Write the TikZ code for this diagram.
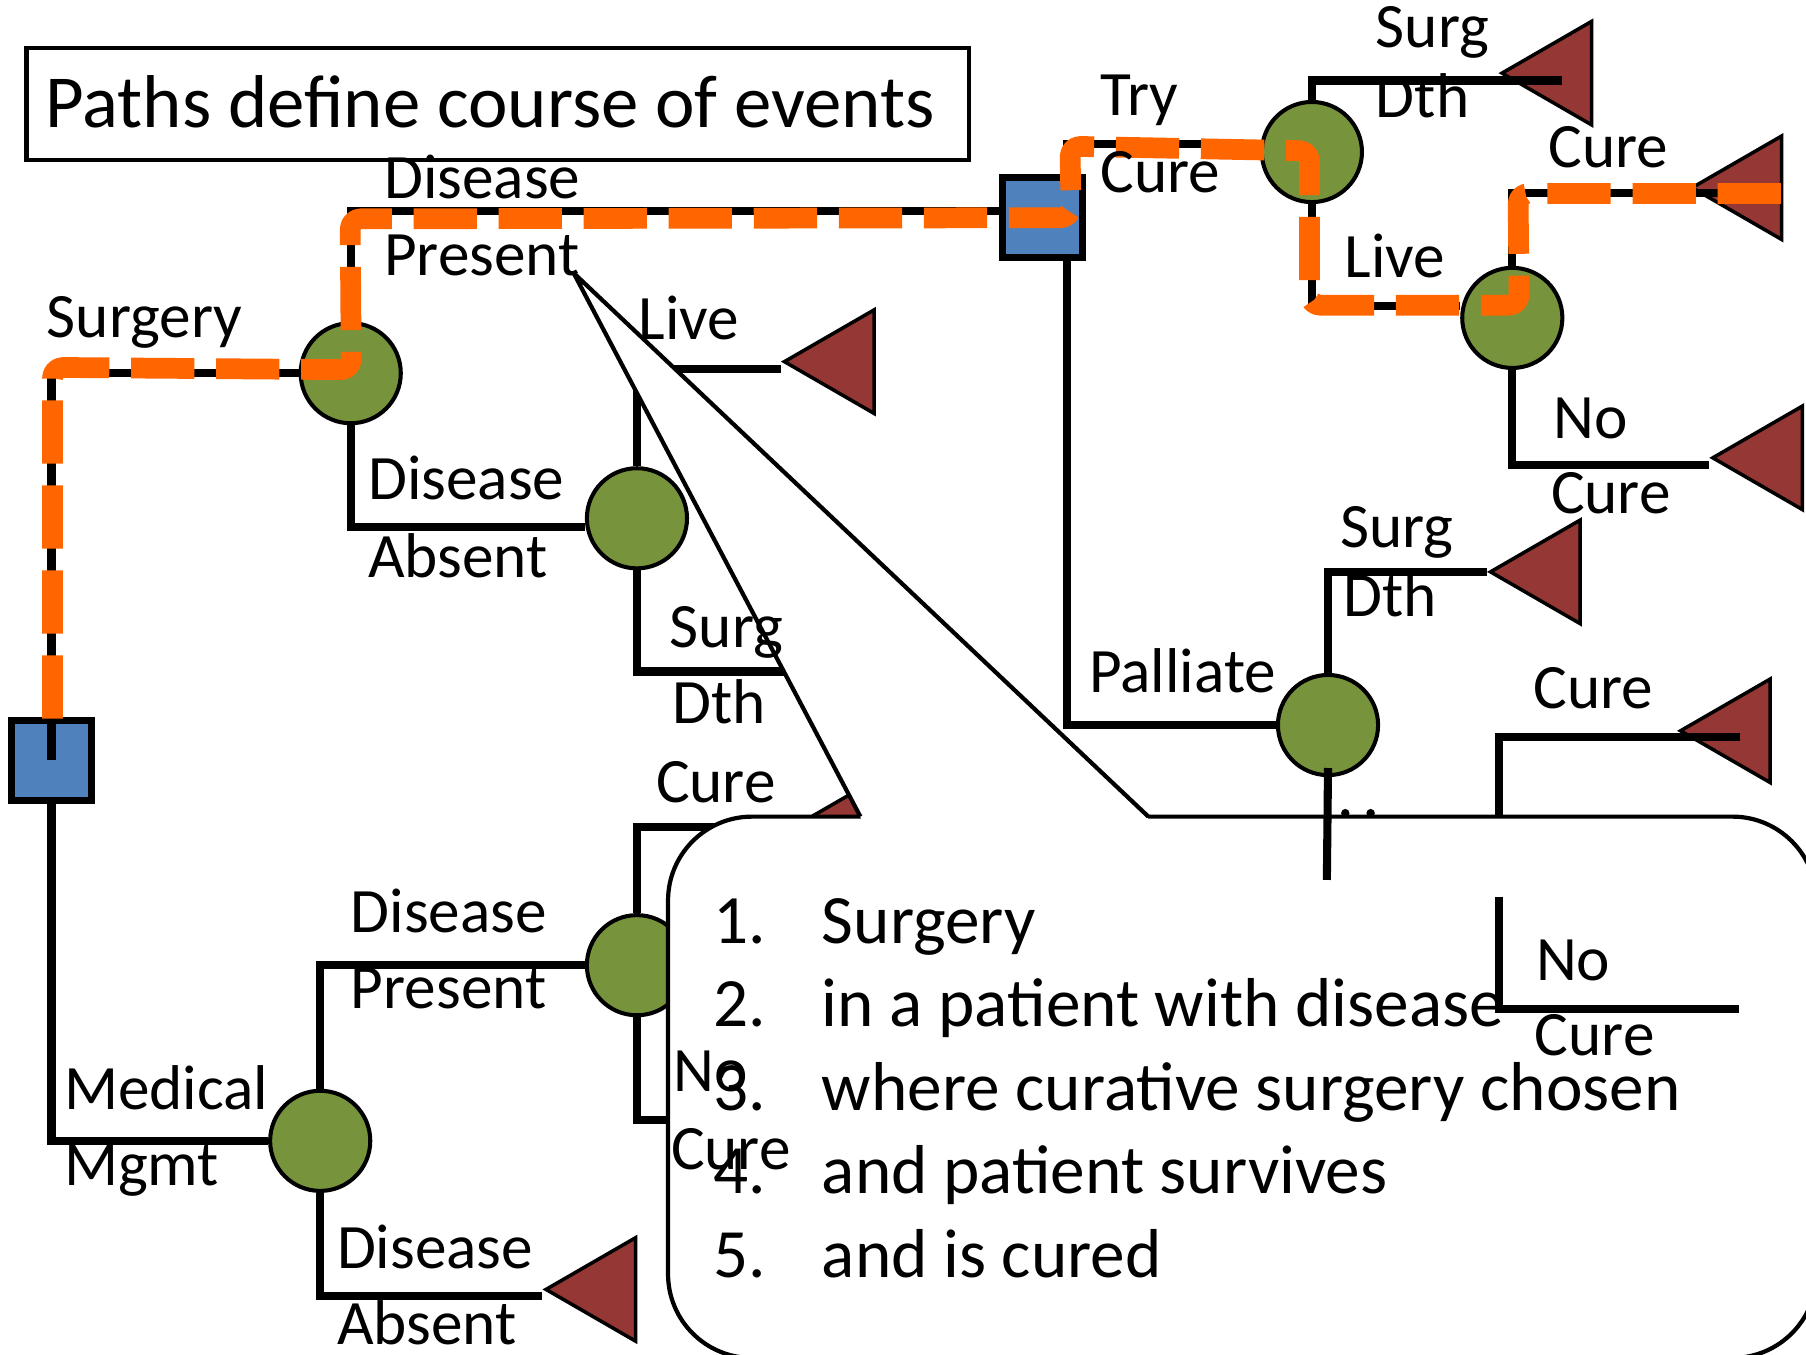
\documentclass[tikz,border=0pt]{standalone}
\usepackage{fontspec}
\setmainfont{Carlito}
\usetikzlibrary{shapes.geometric}

\definecolor{decisionblue}{HTML}{4F81BD}
\definecolor{chancegreen}{HTML}{77933C}
\definecolor{terminalred}{HTML}{953735}
\definecolor{pathorange}{HTML}{FF6600}

\begin{document}
\begin{tikzpicture}[x=0.011518cm, y=-0.011518cm]
    \tikzstyle{tree decision} = [rectangle,draw=black,fill=decisionblue,line width=2pt,minimum size=22.8pt,inner sep=0pt]
    \tikzstyle{tree chance} = [circle,draw=black,fill=chancegreen,line width=1.15pt,minimum size=28.5pt,inner sep=0pt]
    \tikzstyle{tree terminal} = [regular polygon,regular polygon sides=3,shape border rotate=90,draw=black,fill=terminalred,line width=1pt,minimum size=34pt,inner sep=0pt,anchor=corner 1]
    \tikzstyle{tree branch} = [draw=black,line width=2.3pt]
    \tikzstyle{branch label} = [anchor=base west,inner sep=0pt,font=\fontsize{18pt}{21pt}\selectfont]
    \tikzstyle{list label} = [anchor=base west,inner sep=0pt,font=\fontsize{19.7pt}{23pt}\selectfont]
    \tikzstyle{path highlight} = [draw=pathorange,line width=5.9pt,dash pattern=on 18pt off 6.2pt,rounded corners=3pt,line join=round]
    \tikzstyle{callout box} = [draw=black,line width=1.2pt]
\useasboundingbox (0,0) rectangle (1568,1176);
% title
\draw[line width=1.15pt] (23,42) rectangle (841,139);
\node[anchor=base west,inner sep=0pt,font=\fontsize{21.3pt}{25pt}\selectfont] (title) at (39,110.6) {Paths define course of events};
% decision and chance nodes
\node[tree decision] (root) at (44.7,660) {};
\node[tree decision] (treat) at (905,188.5) {};
\node[tree chance] (surgery) at (304.5,324) {};
\node[tree chance] (absent) at (553,450) {};
\node[tree chance] (medical) at (278,990.5) {};
\node[tree chance] (present) at (553,838) {};
\node[tree chance] (trycure) at (1139,132) {};
\node[tree chance] (live) at (1313,276) {};
\node[tree chance] (palliate) at (1153,629.5) {};
% terminal nodes
\node[tree terminal] (endlive) at (678,314) {};
\node[tree terminal] (endcure3) at (686,718) {};
\node[tree terminal] (endabsent) at (471,1119.5) {};
\node[tree terminal] (endsd1) at (1301,63.5) {};
\node[tree terminal] (endcure1) at (1466,163) {};
\node[tree terminal] (endnocure1) at (1484,397.5) {};
\node[tree terminal] (endsd2) at (1291,496.5) {};
\node[tree terminal] (endcure2) at (1456,634.5) {};
\coordinate (absentdth) at (690,583);
\coordinate (presentnc) at (600,972);
\coordinate (pallbelow) at (1152,764);
\coordinate (curetop) at (1301.5,709);
\coordinate (nocuretop) at (1301.5,778.5);
\coordinate (nocureend) at (1510,876);
% branches
\draw[tree branch] (root.center) |- (surgery);
\draw[tree branch] (root.south) |- (medical);
\draw[tree branch] (surgery) |- ([yshift=1.8pt]treat.west);
\draw[tree branch] (surgery) |- ([yshift=-2.6pt]absent.west);
\draw[tree branch] (absent) |- ([yshift=-2pt]endlive.corner 1);
\draw[tree branch] (absent) |- (absentdth);
\draw[tree branch] (medical) |- (present);
\draw[tree branch] (medical) |- ([yshift=-1.8pt]endabsent.corner 1);
\draw[tree branch] (present) |- (endcure3.corner 1);
\draw[tree branch] (present) |- (presentnc);
\draw[tree branch] ([xshift=7pt]treat.north) |- ([yshift=2.3pt]trycure.west);
\draw[tree branch] ([xshift=7pt]treat.south) |- (palliate);
\draw[tree branch] (trycure) |- ([yshift=-2.1pt]endsd1.center);
\draw[tree branch] (trycure) |- ([yshift=3.3pt]live.west);
\draw[tree branch] (live) |- ([yshift=-1.5pt,xshift=4pt]endcure1.center);
\draw[tree branch] (live) |- ([yshift=-2pt]endnocure1.corner 1);
\draw[tree branch] (palliate) |- (endsd2.corner 1);
\draw[tree branch] (curetop) |- ([yshift=-1.8pt]endcure2.center);
% the path of events
\draw[path highlight] (45.6,624) -- (45.6,319) -- (305,321) -- (304,190) -- (930,189) -- (929,127) -- (1137,131) -- (1137,265) -- (1319,265) -- (1318,168) -- (1547,168);
% callout
\draw[callout box, fill=white, rounded corners=23.9pt] (580,709) rectangle (1577,1179);
\fill[white] (498,237) -- (748.6,712.5) -- (998.8,712.5) -- cycle;
\draw[callout box, line join=round] (747,709) -- (498,237) -- (997,709);
% branches in front of the callout
\draw[tree branch] ([yshift=2.6pt]palliate.south) -- (pallbelow);
\draw[tree branch] (nocuretop) |- (nocureend);
\fill (1168,706) circle (1.2pt) (1190,706) circle (1.2pt);
% branch labels
\node[branch label] (lsurgery) at (40,293) {Surgery};
\node[branch label] (ldis1) at (333,172) {Disease};
\node[branch label] (lpres1) at (333,239) {Present};
\node[branch label] (ldis2) at (319,434) {Disease};
\node[branch label] (labs2) at (319,501) {Absent};
\node[branch label] (llive1) at (554,295) {Live};
\node[branch label] (lsurg1) at (581,562) {Surg};
\node[branch label] (ldth1) at (583,628) {Dth};
\node[branch label] (lcure1) at (569,697) {Cure};
\node[branch label] (lno1) at (584,948) {No};
\node[branch label] (lnocure1) at (582,1015) {Cure};
\node[branch label] (lmedical) at (55,963) {Medical};
\node[branch label] (lmgmt) at (55,1029) {Mgmt};
\node[branch label] (ldis3) at (304,810) {Disease};
\node[branch label] (lpres3) at (304,876) {Present};
\node[branch label] (ldis4) at (292,1101) {Disease};
\node[branch label] (labs4) at (292,1167) {Absent};
\node[branch label] (ltry) at (955,100) {Try};
\node[branch label] (ltrycure) at (955,167) {Cure};
\node[branch label] (lpalliate) at (945,601) {Palliate};
\node[branch label] (lsurg2) at (1194,41) {Surg};
\node[branch label] (ldth2) at (1194,102) {Dth};
\node[branch label] (llive2) at (1167,241) {Live};
\node[branch label] (lcure2) at (1344,145) {Cure};
\node[branch label] (lno2) at (1348,381) {No};
\node[branch label] (lnocure2) at (1346,446) {Cure};
\node[branch label] (lsurg3) at (1163,475) {Surg};
\node[branch label] (ldth3) at (1166,535.5) {Dth};
\node[branch label] (lcure3) at (1331,615) {Cure};
\node[branch label] (lno3) at (1333,851) {No};
\node[branch label] (lnocure3) at (1332,916) {Cure};
% callout list
\node[list label] (num1) at (619,819) {1.};
\node[list label] (item1) at (713,819) {Surgery};
\node[list label] (num2) at (619,891.5) {2.};
\node[list label] (item2) at (713,891.5) {in a patient with disease};
\node[list label] (num3) at (619,964) {3.};
\node[list label] (item3) at (713,964) {where curative surgery chosen};
\node[list label] (num4) at (619,1036.5) {4.};
\node[list label] (item4) at (713,1036.5) {and patient survives};
\node[list label] (num5) at (619,1109) {5.};
\node[list label] (item5) at (713,1109) {and is cured};
\end{tikzpicture}
\end{document}
